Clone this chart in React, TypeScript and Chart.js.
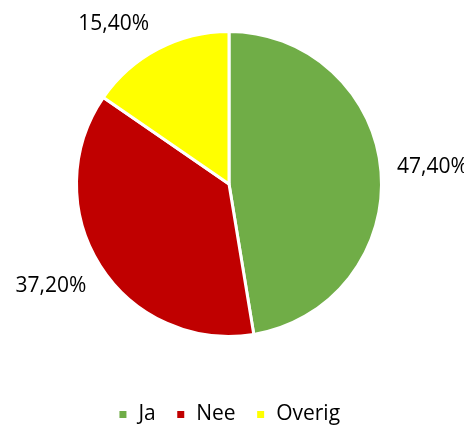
import React, { useEffect, useRef } from "react";
import { Chart, registerables } from "chart.js";

Chart.register(...registerables);

const categories = ["Ja", "Nee", "Overig"];
const values = [47.4, 37.2, 15.4];
const valueLabels = ["47,40%", "37,20%", "15,40%"];
const colors = ["#70AD47", "#C00000", "#FFFF00"];

const FONT = "'Open Sans', sans-serif";

const outsideLabels = {
  id: "outsideLabels",
  afterDatasetsDraw(chart: any) {
    const ctx = chart.ctx;
    const meta = chart.getDatasetMeta(0);
    ctx.save();
    ctx.font = `21px ${FONT}`;
    ctx.fillStyle = "#000";
    ctx.textAlign = "center";
    ctx.textBaseline = "middle";
    meta.data.forEach((arc: any, i: number) => {
      const { x, y, startAngle, endAngle, outerRadius } = arc.getProps(
        ["x", "y", "startAngle", "endAngle", "outerRadius"],
        true
      );
      const mid = (startAngle + endAngle) / 2;
      const dx = Math.cos(mid);
      const dy = Math.sin(mid);
      const gap = 13;
      const px = x + (outerRadius + gap) * dx;
      const py = y + (outerRadius + gap) * dy;
      const text = valueLabels[i];
      const w = ctx.measureText(text).width;
      const h = 26;
      const k = 3;
      const cl = (v: number) => Math.max(-1, Math.min(1, v * k));
      ctx.fillText(text, px + cl(dx) * (w / 2 + 3), py + (cl(dy) * h) / 2);
    });
    ctx.restore();
  },
};

export default function App() {
  const ref = useRef<HTMLCanvasElement | null>(null);
  useEffect(() => {
    document.documentElement.style.overflow = "hidden";
    document.body.style.overflow = "hidden";
    if (!ref.current) return;
    const chart = new Chart(ref.current, {
      type: "pie",
      data: {
        labels: categories,
        datasets: [
          {
            data: values,
            backgroundColor: colors,
            borderColor: "#ffffff",
            borderWidth: 3,
          },
        ],
      },
      options: {
        animation: false,
        responsive: true,
        maintainAspectRatio: false,
        layout: { padding: { top: 22, bottom: 0, left: 0, right: 14 } },
        plugins: {
          tooltip: { enabled: false },
          legend: {
            position: "bottom",
            title: {
              display: true,
              text: " ",
              font: { size: 10, lineHeight: 1 },
              padding: { top: 36, bottom: 0 },
            },
            labels: {
              boxWidth: 10,
              boxHeight: 10,
              padding: 20,
              color: "#000",
              font: { family: FONT, size: 21 },
            },
          },
        },
      },
      plugins: [outsideLabels],
    });
    return () => chart.destroy();
  }, []);
  return (
    <div style={{ position: "relative", width: 472, height: 427, marginLeft: -8 }}>
      <canvas ref={ref} />
    </div>
  );
}
